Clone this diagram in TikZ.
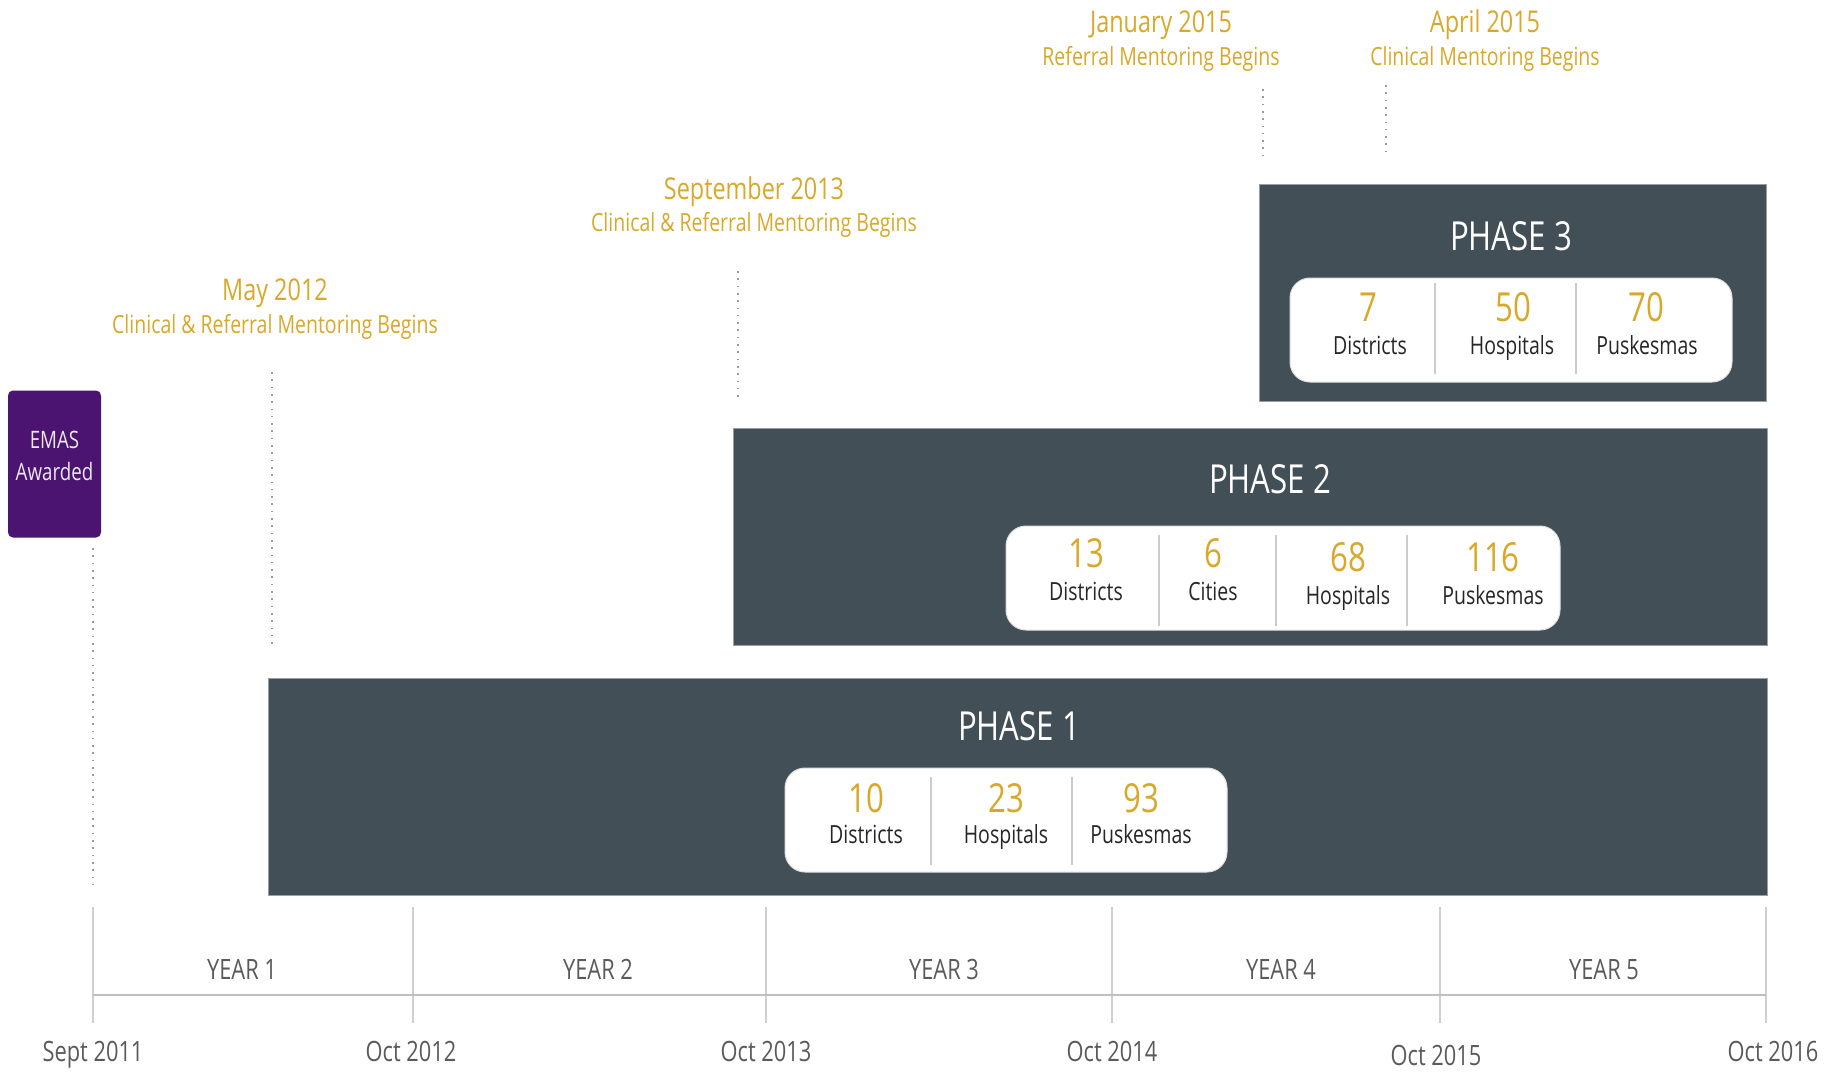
\documentclass[tikz,border=0pt]{standalone}
\usepackage{fontspec}
\setmainfont{Open Sans}[FakeStretch=0.78]
\definecolor{slate}{HTML}{434F57}
\definecolor{gold}{HTML}{D9A828}
\definecolor{emas}{HTML}{4A1470}
\definecolor{tltext}{HTML}{5A5A5A}
\definecolor{tick}{HTML}{CFCFCF}
\definecolor{dotc}{HTML}{9A9A9A}
\begin{document}
\begin{tikzpicture}[x=1pt,y=-1pt,
  phasebox/.style={fill=slate, draw=slate!55!white, line width=1pt, minimum width=#1, inner sep=0, minimum height=217pt},
  statbox/.style={fill=white, draw=black!12, line width=1pt, rounded corners=20pt, minimum height=104pt, minimum width=#1, inner sep=0},
  phasetitle/.style={text=white, font=\fontsize{40}{46}\selectfont, anchor=base, inner sep=0},
  num/.style={text=gold, font=\fontsize{40}{46}\selectfont, anchor=base, inner sep=0},
  lbl/.style={text=black!85, font=\fontsize{25}{30}\selectfont, anchor=base, inner sep=0},
  divider/.style={draw=black!20, line width=1.5pt},
  anhead/.style={text=gold, font=\fontsize{30}{36}\selectfont, anchor=base, inner sep=0},
  ansub/.style={text=gold, font=\fontsize{25}{30}\selectfont, anchor=base, inner sep=0},
  dotline/.style={draw=dotc, line width=2pt, dash pattern=on 1.6pt off 5.7pt},
  tltxt/.style={text=tltext, font=\fontsize{28}{34}\selectfont, anchor=base, inner sep=0},
  ticks/.style={draw=tick, line width=1.5pt},
]
\useasboundingbox (0,0) rectangle (1845,1074);

% ---------- EMAS ----------
\node[fill=emas, rounded corners=5pt, minimum width=93pt, minimum height=147pt, inner sep=0] (emas) at (54.5,464) {};
\node[text=white!90!emas, font=\fontsize{24}{28}\selectfont, anchor=base, inner sep=0] (emast1) at (54.5,448) {EMAS};
\node[text=white!90!emas, font=\fontsize{24}{28}\selectfont, anchor=base, inner sep=0] (emast2) at (54.5,480) {Awarded};
\coordinate (emasdot-top) at (93,548);
\coordinate (emasdot-bot) at (93,888);
\draw[dotline] (emasdot-top) -- (emasdot-bot);

% ---------- Phase 1 ----------
\node[phasebox=1499pt] (p1) at (1017.5,787) {};
\node[phasetitle] (p1t) at (1019,740) {PHASE 1};
\node[statbox=442pt] (s1) at (1006,820) {};
\draw[divider] (931,777) -- (931,865);
\draw[divider] (1072,777) -- (1072,865);
\node[num] (s1n1) at (866,812) {10};
\node[num] (s1n2) at (1006,812) {23};
\node[num] (s1n3) at (1141,812) {93};
\node[lbl] (s1l1) at (866,843) {Districts};
\node[lbl] (s1l2) at (1006,843) {Hospitals};
\node[lbl] (s1l3) at (1141,843) {Puskesmas};

% ---------- Phase 2 ----------
\node[phasebox=1034pt] (p2) at (1250,536.5) {};
\node[phasetitle] (p2t) at (1270,493) {PHASE 2};
\node[statbox=554pt] (s2) at (1283,578) {};
\draw[divider] (1159,535) -- (1159,626);
\draw[divider] (1276,535) -- (1276,626);
\draw[divider] (1407,535) -- (1407,626);
\node[num] (s2n1) at (1086,567) {13};
\node[num] (s2n2) at (1213,567) {6};
\node[num] (s2n3) at (1348,571) {68};
\node[num] (s2n4) at (1493,571) {116};
\node[lbl] (s2l1) at (1086,600) {Districts};
\node[lbl] (s2l2) at (1213,600) {Cities};
\node[lbl] (s2l3) at (1348,604) {Hospitals};
\node[lbl] (s2l4) at (1493,604) {Puskesmas};

% ---------- Phase 3 ----------
\node[phasebox=507pt] (p3) at (1512.5,292.5) {};
\node[phasetitle] (p3t) at (1511,250) {PHASE 3};
\node[statbox=442pt] (s3) at (1511,330) {};
\draw[divider] (1435,283) -- (1435,374);
\draw[divider] (1576,283) -- (1576,374);
\node[num] (s3n1) at (1368,321) {7};
\node[num] (s3n2) at (1513,321) {50};
\node[num] (s3n3) at (1646,321) {70};
\node[lbl] (s3l1) at (1370,354) {Districts};
\node[lbl] (s3l2) at (1512,354) {Hospitals};
\node[lbl] (s3l3) at (1647,354) {Puskesmas};

% ---------- Annotations ----------
\node[anhead] (a1h) at (275,300) {May 2012};
\node[ansub] (a1s) at (275,333) {Clinical \& Referral Mentoring Begins};
\coordinate (a1top) at (272,372);
\coordinate (a1bot) at (272,645);
\draw[dotline] (a1top) -- (a1bot);

\node[anhead] (a2h) at (754,199) {September 2013};
\node[ansub] (a2s) at (754,231) {Clinical \& Referral Mentoring Begins};
\coordinate (a2top) at (738,271);
\coordinate (a2bot) at (738,400);
\draw[dotline] (a2top) -- (a2bot);

\node[anhead] (a3h) at (1161,32) {January 2015};
\node[ansub] (a3s) at (1161,65) {Referral Mentoring Begins};
\coordinate (a3top) at (1263,89);
\coordinate (a3bot) at (1263,157);
\draw[dotline] (a3top) -- (a3bot);

\node[anhead] (a4h) at (1485,32) {April 2015};
\node[ansub] (a4s) at (1485,65) {Clinical Mentoring Begins};
\coordinate (a4top) at (1386,85);
\coordinate (a4bot) at (1386,155);
\draw[dotline] (a4top) -- (a4bot);

% ---------- Timeline ----------
\foreach \n/\x in {0/93,1/413,2/766,3/1112,4/1440,5/1766}{
  \coordinate (t\n top) at (\x,907);
  \coordinate (t\n bot) at (\x,1023);
  \draw[ticks] (t\n top) -- (t\n bot);
}
\coordinate (axisL) at (93,995);
\coordinate (axisR) at (1766,995);
\draw[draw=black!25, line width=2pt] (axisL) -- (axisR);

\node[tltxt] (y1) at (242,979) {YEAR 1};
\node[tltxt] (y2) at (598,979) {YEAR 2};
\node[tltxt] (y3) at (944,979) {YEAR 3};
\node[tltxt] (y4) at (1281,979) {YEAR 4};
\node[tltxt] (y5) at (1604,979) {YEAR 5};

\node[tltxt] (d0) at (93,1061) {Sept 2011};
\node[tltxt] (d1) at (411,1061) {Oct 2012};
\node[tltxt] (d2) at (766,1061) {Oct 2013};
\node[tltxt] (d3) at (1112,1061) {Oct 2014};
\node[tltxt] (d4) at (1436,1065) {Oct 2015};
\node[tltxt] (d5) at (1773,1061) {Oct 2016};
\end{tikzpicture}
\end{document}
